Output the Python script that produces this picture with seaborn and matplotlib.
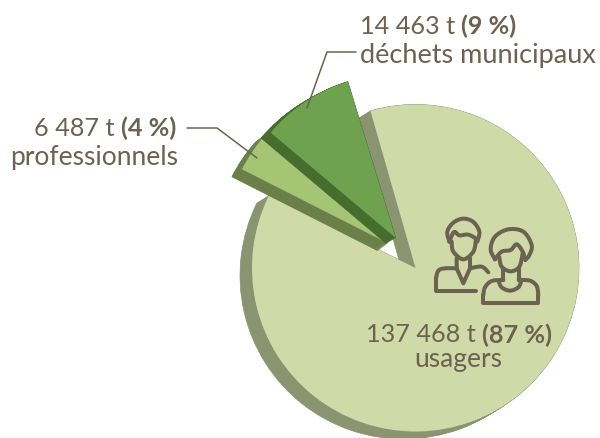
import numpy as np
import matplotlib.pyplot as plt
import seaborn as sns

# tonnages, dans l'ordre horaire a partir du bord haut de la grande part
categories = ["usagers", "professionnels", "déchets municipaux"]
tonnages = [137468, 6487, 14463]
tonnage_labels = ["137 468 t", "6 487 t", "14 463 t"]
percent_labels = ["(87 %)", "(4 %)", "(9 %)"]
explode = [0, 36, 36]  # ax.pie prend le decalage en unites du graphique

top_colors = ["#d0daa9", "#a5c474", "#6fa24e"]
wall_colors = ["#8a9470", "#6b8049", "#466d2e"]
text_color = "#6b6350"

sns.set_theme(style="white")
plt.rcParams["font.family"] = ["Lato", "DejaVu Sans"]

W, H = 600, 438
fig = plt.figure(figsize=(W / 100, H / 100), dpi=100)
ax = fig.add_axes([0, 0, 1, 1])

cx, cy = 415.5, H - 268
r = 163.5
zorders = [1, 3, 5]


def draw(start, keep, wall, dx=0, dy=0):
    # epaisseur : meme camembert recopie en decale, puis la face du dessus
    for t in np.linspace(1, 0, 13):
        wedges, _ = ax.pie(
            tonnages, explode=explode, colors=wall_colors, startangle=start,
            counterclock=False, radius=r,
            center=(cx + dx - wall[0] * t, cy + dy - wall[1] * t),
            frame=True, wedgeprops={"linewidth": 0.5},
        )
        for i, w in enumerate(wedges):
            w.set_zorder(zorders[i])
            w.set_edgecolor(wall_colors[i])
            w.set_visible(i == keep)
    wedges, _ = ax.pie(
        tonnages, explode=explode, colors=top_colors, startangle=start,
        counterclock=False, radius=r, center=(cx + dx, cy + dy), frame=True,
        wedgeprops={"linewidth": 0},
    )
    for i, w in enumerate(wedges):
        w.set_zorder(zorders[i] + 1)
        w.set_visible(i == keep)


draw(106, 0, (12, 7.5))
draw(105.5, 1, (10, 7.5), dx=2, dy=4.5)
draw(107, 2, (9.5, 5.5))

ax.set_xlim(0, W)
ax.set_ylim(0, H)
ax.set_aspect("equal")
ax.axis("off")


def label(x, y, i, size=18.2):
    # valeur + pourcentage en gras, colles autour de x
    ax.text(x, H - y, tonnage_labels[i], ha="right", va="center", fontsize=size,
            color=text_color, zorder=10)
    ax.text(x + 6, H - y, percent_labels[i], ha="left", va="center", fontsize=size,
            color=text_color, fontweight="bold", zorder=10)


label(455, 26, 2)
ax.text(596, H - 55, categories[2], ha="right", va="center", fontsize=19.5,
        color=text_color, zorder=10)
label(115, 128, 1)
ax.text(178, H - 157, categories[1], ha="right", va="center", fontsize=19,
        color=text_color, zorder=10)
label(476, 335, 0)
ax.text(458, H - 360, categories[0], ha="center", va="center", fontsize=19,
        color=text_color, zorder=10)

# traits de rappel
ax.plot([356, 327, 307], [H - 52, H - 52, H - 108], color=text_color, lw=1.1, zorder=10)
ax.plot([187, 217, 257], [H - 128, H - 128, H - 158], color=text_color, lw=1.1, zorder=10)


def smooth(pts, n=12):
    # Catmull-Rom pour arrondir le pictogramme
    p = np.array(pts, dtype=float)
    p = np.vstack([p[0], p, p[-1]])
    out = []
    for i in range(1, len(p) - 2):
        for s in np.linspace(0, 1, n, endpoint=False):
            out.append(0.5 * (2 * p[i] + (p[i + 1] - p[i - 1]) * s
                              + (2 * p[i - 1] - 5 * p[i] + 4 * p[i + 1] - p[i + 2]) * s**2
                              + (3 * p[i] - p[i - 1] - 3 * p[i + 1] + p[i + 2]) * s**3))
    out.append(p[-2])
    return np.array(out)


def icon(pts, curved=True):
    # coordonnees du recadrage x3 autour de (420, 200)
    q = smooth(pts) if curved else np.array(pts, dtype=float)
    ax.plot(420 + q[:, 0] / 3, H - (200 + q[:, 1] / 3), color=text_color, lw=2.9,
            solid_capstyle="round", solid_joinstyle="round", zorder=9)


# homme
icon([(88, 125), (82, 95), (100, 68), (130, 56), (160, 66), (178, 95), (172, 125)])
icon([(88, 125), (102, 96), (118, 106), (145, 104), (172, 118)])
icon([(95, 125), (100, 155), (130, 178), (160, 155), (168, 118)])
icon([(110, 175), (110, 205), (130, 250), (150, 205), (150, 175)], curved=False)
icon([(168, 272), (48, 272), (48, 235)], curved=False)
icon([(48, 235), (55, 212), (75, 205), (110, 205)])
icon([(150, 205), (185, 200), (205, 217)])
# femme
icon([(225, 178), (212, 148), (225, 110), (265, 88), (310, 95), (335, 135), (328, 165), (316, 180)])
icon([(225, 178), (245, 155), (272, 150), (290, 133), (308, 155), (316, 180)])
icon([(238, 172), (245, 200), (272, 214), (298, 200), (308, 160)])
icon([(250, 208), (250, 240)], curved=False)
icon([(296, 205), (296, 240)], curved=False)
icon([(236, 243), (245, 262), (270, 272), (295, 262), (304, 243)])
icon([(250, 240), (215, 243), (195, 262), (190, 285)])
icon([(190, 285), (190, 310), (355, 310), (355, 285)], curved=False)
icon([(355, 285), (350, 258), (330, 242), (296, 240)])

fig.savefig("out.png", dpi=100)
